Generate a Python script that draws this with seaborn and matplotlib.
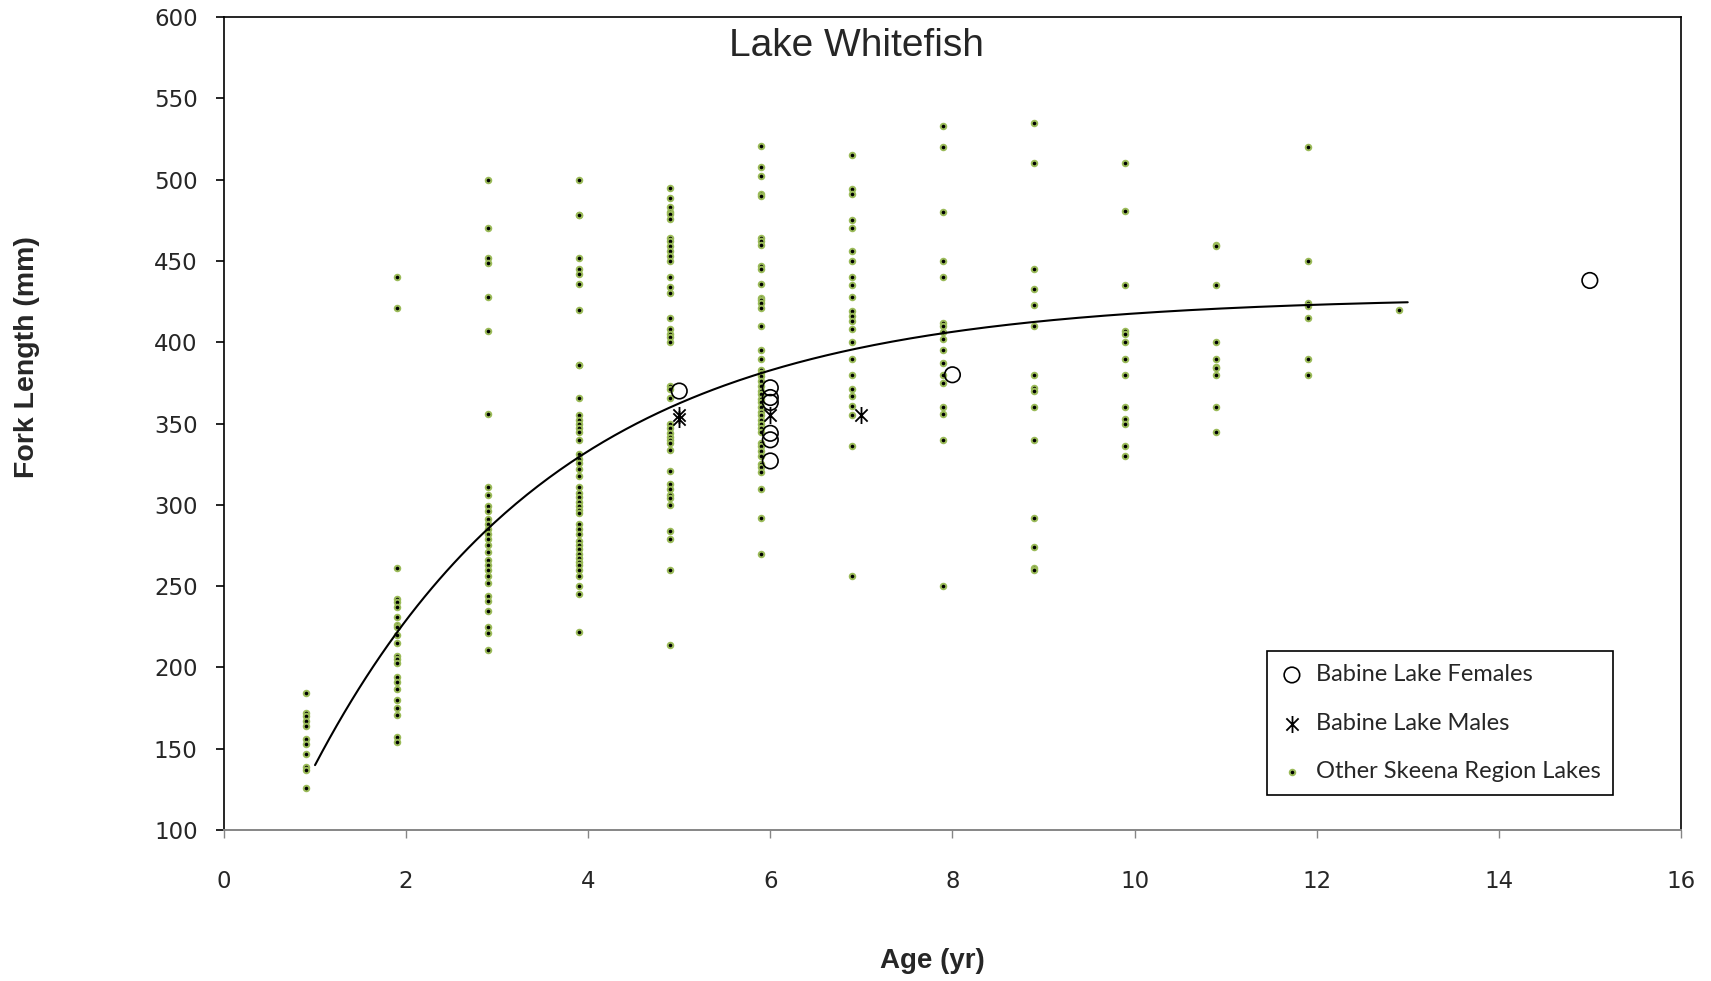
import numpy as np
import pandas as pd
import matplotlib
matplotlib.use("Agg")
import matplotlib.pyplot as plt
from matplotlib.path import Path
import seaborn as sns

# Fork length (mm) by age class for the other Skeena Region lakes
other_ages = [0.9, 1.9, 2.9, 3.9, 4.9, 5.9, 6.9, 7.9, 8.9, 9.9, 10.9, 11.9, 12.9]
other_lengths = [
    [184, 172, 170, 167, 164, 156, 153, 147, 139, 137, 126],
    [440, 421, 261, 242, 240, 237, 231, 226, 225, 220, 215, 207, 205, 203,
     194, 191, 187, 180, 175, 171, 157, 154],
    [500, 470, 452, 449, 428, 407, 356, 311, 306, 299, 296, 291, 288, 285,
     282, 279, 275, 271, 266, 263, 260, 256, 252, 244, 241, 235, 225, 221, 211],
    [500, 478, 478, 452, 445, 442, 436, 420, 386, 386, 366, 355, 352, 350,
     347, 345, 340, 331, 328, 326, 322, 318, 311, 307, 305, 302, 299, 297,
     295, 288, 285, 282, 278, 275, 273, 270, 267, 265, 263, 260, 256, 250,
     245, 222],
    [495, 489, 483, 480, 479, 476, 464, 462, 459, 456, 453, 450, 440, 434,
     430, 415, 408, 405, 403, 400, 373, 371, 366, 350, 347, 344, 342, 340,
     338, 334, 321, 313, 310, 306, 304, 300, 284, 279, 260, 214],
    [521, 508, 502, 491, 490, 464, 462, 460, 447, 445, 436, 427, 426, 424,
     421, 410, 395, 390, 383, 381, 379, 376, 373, 370, 368, 365, 363, 360,
     357, 355, 352, 350, 347, 345, 338, 336, 333, 330, 325, 323, 320, 310,
     292, 270],
    [515, 494, 491, 475, 470, 456, 450, 440, 435, 428, 419, 416, 413, 408,
     400, 390, 380, 371, 367, 361, 355, 336, 256],
    [533, 520, 480, 450, 440, 412, 410, 406, 402, 395, 387, 380, 375, 360,
     356, 340, 250],
    [535, 510, 445, 433, 423, 410, 380, 372, 370, 360, 340, 292, 274, 261, 260],
    [510, 481, 435, 407, 405, 400, 390, 380, 360, 353, 350, 336, 330],
    [460, 459, 435, 400, 390, 385, 384, 380, 360, 345],
    [520, 450, 424, 422, 415, 390, 380],
    [420],
]

# Babine Lake samples
female_ages = [5, 6, 6, 6, 6, 6, 6, 8, 15]
female_lengths = [370, 372, 366, 363, 344, 340, 327, 380, 438]
male_ages = [5, 5, 6, 7]
male_lengths = [355, 353, 355, 355]

# von Bertalanffy growth model parameters and the age span it is drawn over
vb_linf = 428.0
vb_k = 0.37
vb_t0 = -0.07
vb_age_min, vb_age_max = 1.0, 13.0

x_ticks = [0, 2, 4, 6, 8, 10, 12, 14, 16]
y_ticks = [100, 150, 200, 250, 300, 350, 400, 450, 500, 550, 600]

title_text = "Lake Whitefish"
x_label = "Age (yr)"
y_label = "Fork Length (mm)"
female_label = "Babine Lake Females"
male_label = "Babine Lake Males"
other_label = "Other Skeena Region Lakes"

other_df = pd.DataFrame({
    "age": np.repeat(other_ages, [len(v) for v in other_lengths]),
    "length": np.concatenate(other_lengths),
})
female_df = pd.DataFrame({"age": female_ages, "length": female_lengths})
male_df = pd.DataFrame({"age": male_ages, "length": male_lengths})

fit_age = np.linspace(vb_age_min, vb_age_max, 300)
fit_df = pd.DataFrame({
    "age": fit_age,
    "length": vb_linf * (1 - np.exp(-vb_k * (fit_age - vb_t0))),
})

sns.set_theme(style="white")
plt.rcParams["font.family"] = ["DejaVu Sans"]

fig = plt.figure(figsize=(17.11, 9.81), dpi=100)
ax = fig.add_axes([0.1309, 0.1539, 0.8515, 0.8287])

# Asterisk-style marker: vertical bar crossed by an X
star_path = Path(
    [(0, -1), (0, 1), (-0.72, -0.72), (0.72, 0.72), (-0.72, 0.72), (0.72, -0.72)],
    [Path.MOVETO, Path.LINETO] * 3,
)

sns.scatterplot(data=other_df, x="age", y="length", ax=ax, marker="o", s=16,
                color="black", edgecolor="#9BBB59", linewidth=1.4,
                label=other_label, zorder=2)
sns.lineplot(data=fit_df, x="age", y="length", ax=ax, color="black",
             linewidth=1.5, zorder=3)
sns.scatterplot(data=female_df, x="age", y="length", ax=ax, marker="o", s=125,
                facecolors="none", edgecolor="black", linewidth=1.2,
                label=female_label, zorder=4)
sns.scatterplot(data=male_df, x="age", y="length", ax=ax, marker=star_path,
                s=150, color="black", edgecolor="black", linewidth=1.3,
                label=male_label, zorder=4)

ax.set_xlim(x_ticks[0], x_ticks[-1])
ax.set_ylim(y_ticks[0], y_ticks[-1])
ax.set_xticks(x_ticks)
ax.set_yticks(y_ticks)
ax.set_xticklabels([str(t) for t in x_ticks])
ax.set_yticklabels([str(t) for t in y_ticks])

for side in ["left", "top", "right"]:
    ax.spines[side].set_color("black")
    ax.spines[side].set_linewidth(1.2)
ax.spines["bottom"].set_color("#868686")
ax.spines["bottom"].set_linewidth(1.4)

ax.tick_params(axis="x", direction="out", length=6, width=1.0,
               color="#868686", pad=23, labelsize=16.5, bottom=True)
ax.tick_params(axis="y", direction="out", length=6, width=1.2,
               color="black", pad=13, labelsize=16.5, left=True)

ax.set_xlabel(x_label, fontsize=20, fontweight="bold",
              family=["Liberation Sans", "DejaVu Sans"])
ax.set_ylabel(y_label, fontsize=20.5, fontweight="bold",
              family=["Liberation Sans", "DejaVu Sans"])
ax.xaxis.set_label_coords(0.486, -0.161)
ax.xaxis.label.set_va("center")
ax.yaxis.set_label_coords(-0.1353, 0.582)
ax.yaxis.label.set_va("center")

ax.text(0.434, 0.965, title_text, transform=ax.transAxes, ha="center",
        va="center", fontsize=28, family=["Liberation Sans", "DejaVu Sans"])

handles, labels = ax.get_legend_handles_labels()
order = [labels.index(female_label), labels.index(male_label),
         labels.index(other_label)]
leg = ax.legend([handles[i] for i in order], [labels[i] for i in order],
                loc="upper left", bbox_to_anchor=(0.716, 0.220),
                borderaxespad=0, frameon=True, fancybox=False,
                framealpha=1, edgecolor="black",
                labelspacing=1.17, handlelength=1.0, handletextpad=0.5,
                borderpad=0.55,
                prop={"family": ["Lato", "DejaVu Sans"], "size": 17})
leg.get_frame().set_linewidth(1.2)

fig.savefig("out.png", dpi=100, facecolor="white")
